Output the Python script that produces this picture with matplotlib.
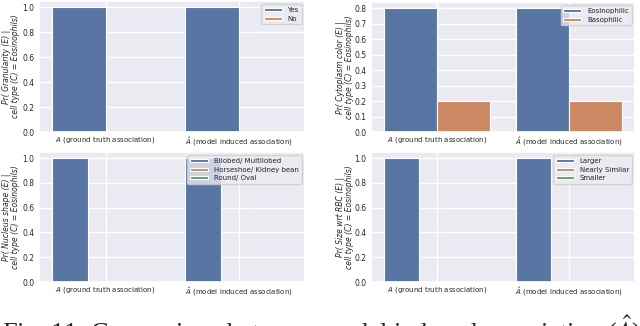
import matplotlib
matplotlib.use("Agg")
import matplotlib.pyplot as plt
import seaborn as sns
import numpy as np

sns.set_theme(style="darkgrid")
plt.rcParams['font.family'] = ['DejaVu Sans']

categories = [r"$A$ (ground truth association)", r"$\hat{A}$ (model induced association)"]

gran_labels = ["Yes", "No"]
gran_values = [[1.0, 1.0], [0.0, 0.0]]

cyto_labels = ["Eosinophilic", "Basophilic"]
cyto_values = [[0.8, 0.8], [0.2, 0.2]]

nuc_labels = ["Bilobed/ Multilobed", "Horseshoe/ Kidney bean", "Round/ Oval"]
nuc_values = [[1.0, 1.0], [0.0, 0.0], [0.0, 0.0]]

size_labels = ["Larger", "Nearly Similar", "Smaller"]
size_values = [[1.0, 1.0], [0.0, 0.0], [0.0, 0.0]]

ylabels = [
    "Pr( Granularity (E) |\ncell type (C) = Eosinophils)",
    "Pr( Cytoplasm color (E) |\ncell type (C) = Eosinophils)",
    "Pr( Nucleus shape (E) |\ncell type (C) = Eosinophils)",
    "Pr( Size wrt RBC (E) |\ncell type (C) = Eosinophils)",
]

colors = ["#5975a4", "#cc8963", "#5f9e6e"]

fig = plt.figure(figsize=(6.4, 3.26), dpi=100)
W, H = 640, 326
def rect(l, r, t, b):
    return [l / W, 1 - b / H, (r - l) / W, (b - t) / H]

positions = [rect(39, 305, 1, 132), rect(371, 635, 2, 132),
             rect(39, 305, 152, 282), rect(371, 635, 152, 282)]
label_x = [(20 - 39) / 266, (354 - 371) / 264, (20 - 39) / 266, (354 - 371) / 264]
datasets = [(gran_labels, gran_values), (cyto_labels, cyto_values),
            (nuc_labels, nuc_values), (size_labels, size_values)]
yticks = [np.arange(0, 1.01, 0.2), np.arange(0, 0.81, 0.1),
          np.arange(0, 1.01, 0.2), np.arange(0, 1.01, 0.2)]

x = np.arange(len(categories))
for i, (pos, (labels, values)) in enumerate(zip(positions, datasets)):
    ax = fig.add_axes(pos)
    n = len(labels)
    w = 0.8 / n
    for j, (lab, vals) in enumerate(zip(labels, values)):
        ax.bar(x - 0.4 + w * (j + 0.5), vals, width=w, color=colors[j],
               edgecolor="white", linewidth=0.8, label=lab)
    ax.set_xlim(-0.5, 1.5)
    top = max(max(v) for v in values)
    ax.set_ylim(0, top * 1.05)
    ax.set_yticks(yticks[i])
    ax.set_yticklabels([f"{t:.1f}" for t in yticks[i]])
    ax.set_xticks(x)
    ax.set_xticklabels(categories)
    ax.tick_params(axis='x', labelsize=5, pad=2.5, length=0)
    ax.tick_params(axis='y', labelsize=5.5, pad=3.5, length=0)
    ax.set_ylabel(ylabels[i], fontsize=5.5, fontstyle="italic", linespacing=1.05)
    ax.yaxis.set_label_coords(label_x[i], 0.5)
    ax.legend(loc="upper right", fontsize=5, handlelength=2.6, handleheight=0.35,
              borderpad=0.4, labelspacing=0.35, framealpha=0.8)

fig.text(0.003, -0.046, "Fig. 11: Comparison between model induced association ($\\hat{A}$)",
         fontfamily="Liberation Serif", fontsize=19, math_fontfamily="stix",
         va="baseline", ha="left")

fig.savefig("out.png", dpi=100)
